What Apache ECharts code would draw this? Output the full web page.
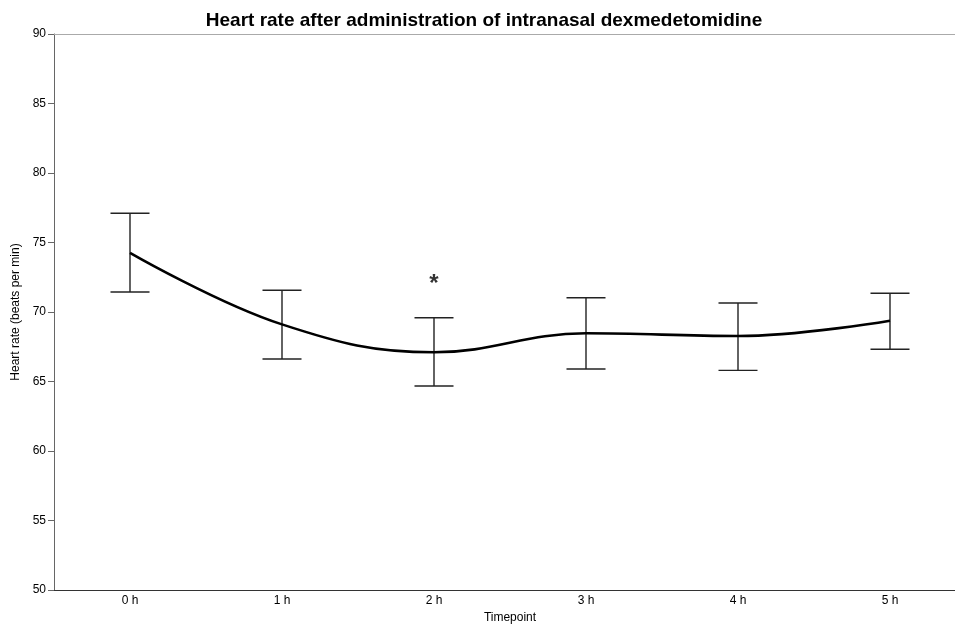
<!DOCTYPE html>
<html>
<head>
<meta charset="utf-8">
<script src="https://cdn.jsdelivr.net/npm/echarts@6/dist/echarts.min.js"></script>
<style>
  html, body { margin: 0; padding: 0; background: #fff; }
  #chart { width: 955px; height: 624px; }
</style>
</head>
<body>
<div id="chart"></div>
<script>
// values
const timepoints = ['0 h', '1 h', '2 h', '3 h', '4 h', '5 h'];
const meanHr = [74.26, 69.11, 67.1, 68.47, 68.27, 69.37];
const upperHr = [77.1, 71.56, 69.59, 71.03, 70.65, 71.35];
const lowerHr = [71.44, 66.62, 64.68, 65.9, 65.8, 67.32];
const sigMarks = [null, null, 72.35, null, null, null];
const yTicks = { min: 50, max: 90, interval: 5 };

const font = 'Liberation Sans, Arial, Helvetica, sans-serif';
const chart = echarts.init(document.getElementById('chart'), null, { renderer: 'canvas' });

const errorData = timepoints.map((t, i) => [i, lowerHr[i], upperHr[i]]);
const sigData = sigMarks
  .map((v, i) => (v == null ? null : [i, v]))
  .filter((d) => d !== null);

const renderErrorBar = (params, api) => {
  const lo = api.coord([api.value(0), api.value(1)]);
  const hi = api.coord([api.value(0), api.value(2)]);
  const half = 19.5;
  const style = { stroke: '#222', lineWidth: 1.4 };
  return {
    type: 'group',
    children: [
      { type: 'line', shape: { x1: lo[0], y1: lo[1], x2: hi[0], y2: hi[1] }, style },
      { type: 'line', shape: { x1: hi[0] - half, y1: hi[1], x2: hi[0] + half, y2: hi[1] }, style },
      { type: 'line', shape: { x1: lo[0] - half, y1: lo[1], x2: lo[0] + half, y2: lo[1] }, style },
    ],
  };
};

chart.setOption({
  animation: false,
  title: {
    text: 'Heart rate after administration of intranasal dexmedetomidine',
    left: 479,
    textAlign: 'center',
    top: 6,
    textStyle: { fontFamily: font, fontSize: 19, fontWeight: 'bold', color: '#000' },
  },
  grid: { left: 54, right: -11, top: 34, bottom: 34, outerBoundsMode: 'none', containLabel: false },
  xAxis: [
    {
      type: 'category',
      data: timepoints,
      boundaryGap: true,
      name: 'Timepoint',
      nameLocation: 'middle',
      nameGap: 22,
      nameTextStyle: { fontFamily: font, fontSize: 12, color: '#000' },
      axisLine: { lineStyle: { color: '#333', width: 1.2 } },
      axisTick: { show: false },
      axisLabel: { fontFamily: font, fontSize: 12, color: '#000', margin: 5 },
      splitLine: { show: false },
    },
    {
      type: 'category',
      data: timepoints,
      position: 'top',
      axisLine: { lineStyle: { color: '#aaa', width: 1.2 } },
      axisTick: { show: false },
      axisLabel: { show: false },
      splitLine: { show: false },
    },
  ],
  yAxis: {
    type: 'value',
    min: yTicks.min,
    max: yTicks.max,
    interval: yTicks.interval,
    name: 'Heart rate (beats per min)',
    nameLocation: 'middle',
    nameGap: 29,
    nameTextStyle: { fontFamily: font, fontSize: 12, color: '#000' },
    axisLine: { show: true, lineStyle: { color: '#666', width: 1 } },
    axisTick: { show: true, length: 6, lineStyle: { color: '#666' } },
    axisLabel: { fontFamily: font, fontSize: 12, color: '#000', margin: 8 },
    splitLine: { show: false },
  },
  series: [
    {
      type: 'custom',
      name: 'SD',
      renderItem: renderErrorBar,
      data: errorData,
      encode: { x: 0, y: [1, 2] },
      z: 2,
    },
    {
      type: 'line',
      name: 'Heart rate',
      data: meanHr,
      smooth: 0.4,
      symbol: 'none',
      lineStyle: { color: '#000', width: 2.6 },
      z: 3,
    },
    {
      type: 'scatter',
      name: 'Significance',
      data: sigData,
      symbolSize: 0,
      label: {
        show: true,
        formatter: '*',
        position: 'inside',
        offset: [0, 5],
        fontFamily: font,
        fontSize: 24,
        fontWeight: 'bold',
        color: '#000',
      },
    },
  ],
});
</script>
</body>
</html>
